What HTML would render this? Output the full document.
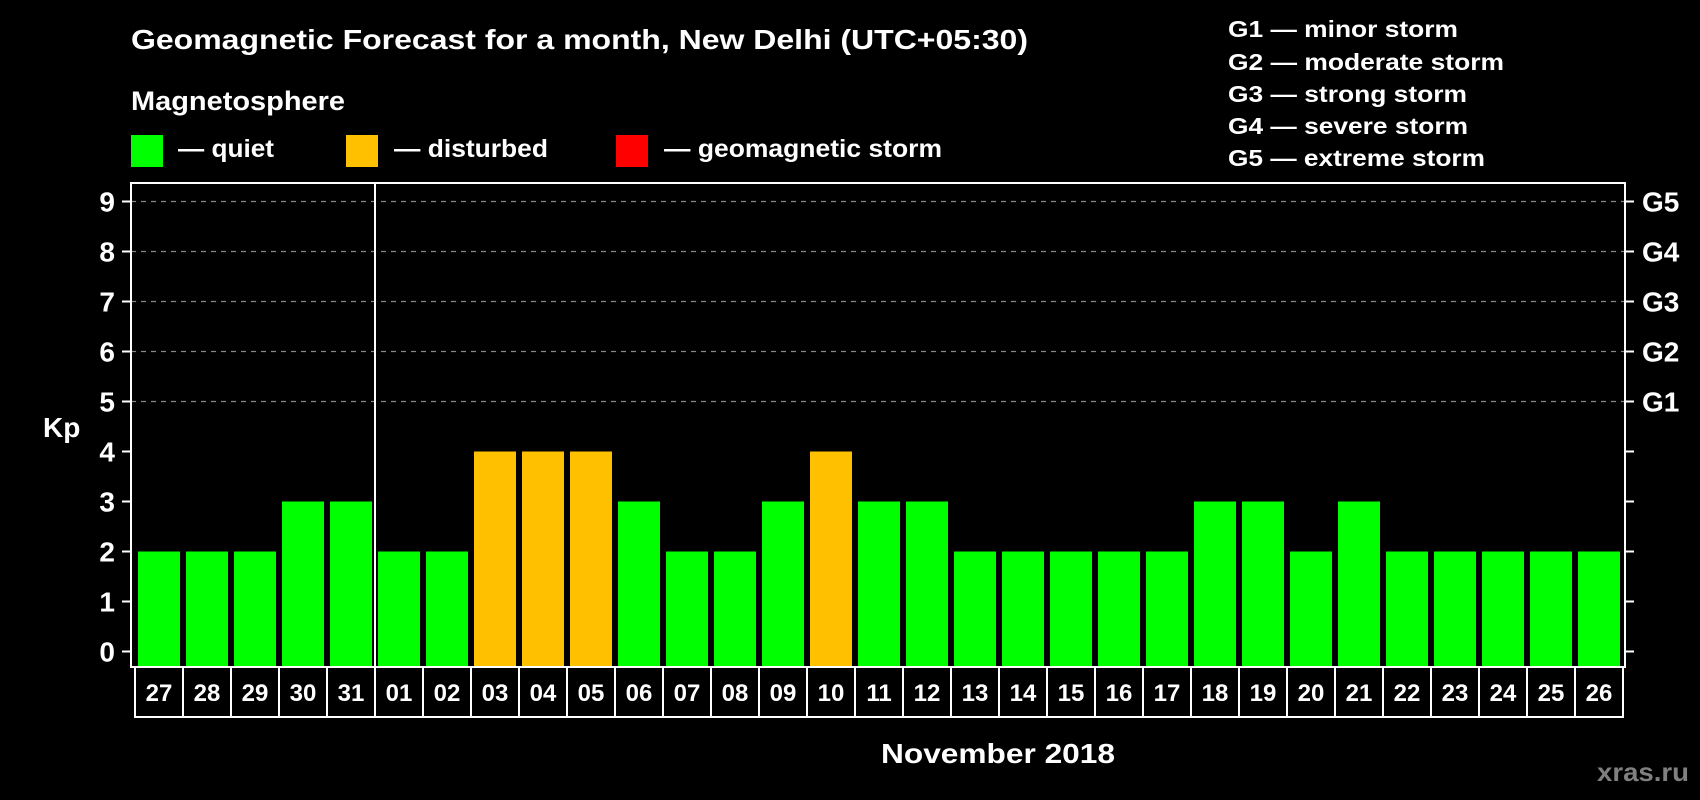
<!DOCTYPE html>
<html><head><meta charset="utf-8"><style>
html,body{margin:0;padding:0;background:#000;}
svg{display:block;font-family:"Liberation Sans",sans-serif;font-weight:bold;}
</style></head><body>
<svg id="chart" width="1700" height="800" viewBox="0 0 1700 800">
<rect x="0" y="0" width="1700" height="800" fill="#000"/>
<text x="131" y="49" font-size="28" fill="#fff" textLength="897" lengthAdjust="spacingAndGlyphs">Geomagnetic Forecast for a month, New Delhi (UTC+05:30)</text>
<text x="131" y="110" font-size="27" fill="#fff" textLength="214" lengthAdjust="spacingAndGlyphs">Magnetosphere</text>
<g>
<rect x="131" y="135" width="32" height="32" fill="#00ff00"/>
<text x="178" y="157" font-size="25" fill="#fff" textLength="96" lengthAdjust="spacingAndGlyphs">— quiet</text></g>
<g>
<rect x="346" y="135" width="32" height="32" fill="#ffc000"/>
<text x="394" y="157" font-size="25" fill="#fff" textLength="154" lengthAdjust="spacingAndGlyphs">— disturbed</text></g>
<g>
<rect x="616" y="135" width="32" height="32" fill="#ff0000"/>
<text x="664" y="157" font-size="25" fill="#fff" textLength="278" lengthAdjust="spacingAndGlyphs">— geomagnetic storm</text></g>
<g font-size="23" fill="#fff">
<text x="1228" y="37" textLength="230" lengthAdjust="spacingAndGlyphs">G1 — minor storm</text>
<text x="1228" y="70" textLength="276" lengthAdjust="spacingAndGlyphs">G2 — moderate storm</text>
<text x="1228" y="102" textLength="239" lengthAdjust="spacingAndGlyphs">G3 — strong storm</text>
<text x="1228" y="134" textLength="240" lengthAdjust="spacingAndGlyphs">G4 — severe storm</text>
<text x="1228" y="166" textLength="257" lengthAdjust="spacingAndGlyphs">G5 — extreme storm</text>
</g>
<g id="grid"></g>
<g id="bars"></g>
<g id="axes"></g>
<text x="43" y="437" font-size="28" fill="#fff">Kp</text>
<text x="881" y="763" font-size="28" fill="#fff" textLength="234" lengthAdjust="spacingAndGlyphs">November 2018</text>
<text x="1597" y="781" font-size="26" fill="#808080" textLength="92" lengthAdjust="spacingAndGlyphs">xras.ru</text>
</svg>
<script>
const days = ["27","28","29","30","31","01","02","03","04","05","06","07","08","09","10","11","12","13","14","15","16","17","18","19","20","21","22","23","24","25","26"];
const kpValues = [2,2,2,3,3,2,2,4,4,4,3,2,2,3,4,3,3,2,2,2,2,2,3,3,2,3,2,2,2,2,2];
const yTicks = [0,1,2,3,4,5,6,7,8,9];
const gLabels = ["G1","G2","G3","G4","G5"];
const gLevels = [5,6,7,8,9];
const monthStartIndex = 5;

const NS = "http://www.w3.org/2000/svg";
const plotL = 131, plotR = 1625, plotT = 183, plotB = 667;
const slotW = 48, firstCenter = 159, barW = 42;
function yScale(v){ return 651.5 - v * 50; }
function xCenter(i){ return firstCenter + i * slotW; }
function mk(tag, attrs, parent){ const e = document.createElementNS(NS, tag); for (const k in attrs) e.setAttribute(k, attrs[k]); parent.appendChild(e); return e; }
function colorFor(v){ return v >= 5 ? "#ff0000" : (v >= 4 ? "#ffc000" : "#00ff00"); }

const grid = document.getElementById("grid");
const bars = document.getElementById("bars");
const axes = document.getElementById("axes");

gLevels.forEach((lv, i) => {
  const y = yScale(lv);
  const g = mk("line", {x1: plotL, x2: plotR, y1: y, y2: y, stroke: "#888", "stroke-width": 1.2, "stroke-dasharray": "5,5"}, grid);
  
  
  const t = mk("text", {x: 1642, y: y + 10, "font-size": 28, fill: "#fff"}, axes);
  t.textContent = gLabels[i];
  
  
});

kpValues.forEach((v, i) => {
  const cx = xCenter(i);
  const r = mk("rect", {x: cx - barW / 2, y: yScale(v), width: barW, height: plotB - yScale(v), fill: colorFor(v)}, bars);
  
  
  const box = mk("rect", {x: cx - slotW / 2, y: plotB, width: slotW, height: 50, fill: "none", stroke: "#fff", "stroke-width": 2}, axes);
  
  
  const t = mk("text", {x: cx, y: 701, "font-size": 24, fill: "#fff", "text-anchor": "middle"}, axes);
  t.textContent = days[i];
  
  
});

const frame = mk("rect", {x: plotL, y: plotT, width: plotR - plotL, height: plotB - plotT, fill: "none", stroke: "#fff", "stroke-width": 2}, axes);


const sepX = xCenter(monthStartIndex) - slotW / 2;
const sep = mk("line", {x1: sepX, x2: sepX, y1: plotT, y2: 717, stroke: "#fff", "stroke-width": 2}, axes);



yTicks.forEach(v => {
  const y = yScale(v);
  const tl = mk("line", {x1: 122, x2: plotL, y1: y, y2: y, stroke: "#fff", "stroke-width": 2}, axes);
  
  
  const tr = mk("line", {x1: plotR, x2: 1634, y1: y, y2: y, stroke: "#fff", "stroke-width": 2}, axes);
  
  
  const t = mk("text", {x: 115, y: y + 10, "font-size": 28, fill: "#fff", "text-anchor": "end"}, axes);
  t.textContent = v;
  
  
});
</script>
</body></html>
